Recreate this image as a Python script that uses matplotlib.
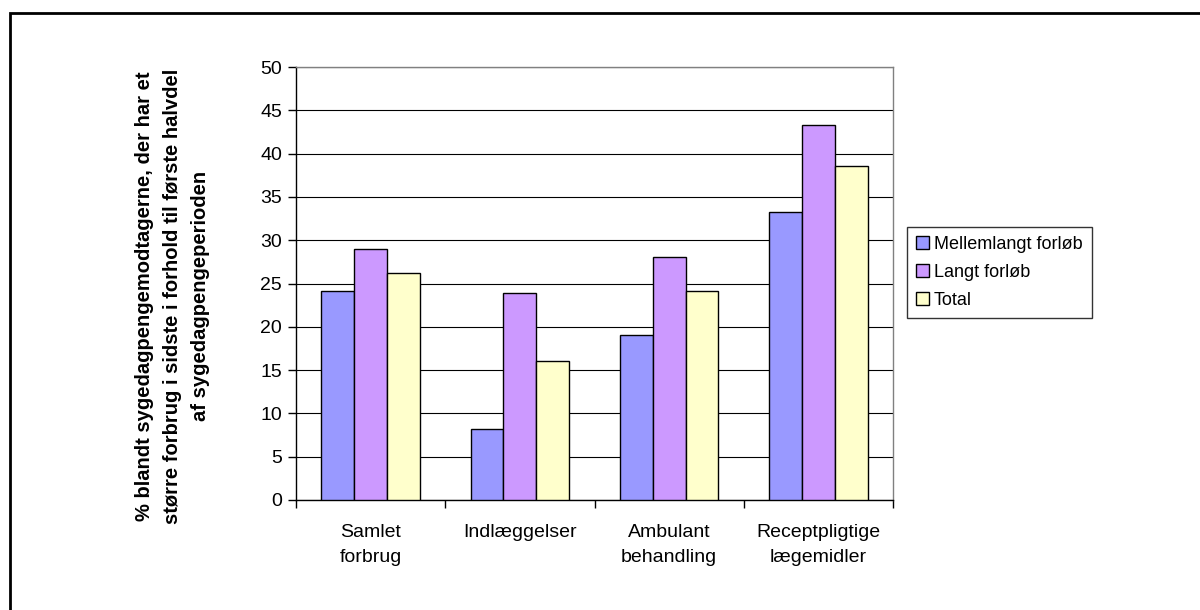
import numpy as np
import matplotlib
matplotlib.use("Agg")
import matplotlib.pyplot as plt
from matplotlib.patches import Rectangle

plt.rcParams['font.family'] = ['Liberation Sans', 'DejaVu Sans']

categories = ["Samlet\nforbrug", "Indlæggelser", "Ambulant\nbehandling", "Receptpligtige\nlægemidler"]
series_names = ["Mellemlangt forløb", "Langt forløb", "Total"]
mellemlangt = [24.1, 8.2, 19.0, 33.2]
langt = [29.0, 23.9, 28.1, 43.3]
total = [26.2, 16.0, 24.1, 38.6]
colors = ["#9999FF", "#CC99FF", "#FFFFCC"]
ylabel = ("% blandt sygedagpengemodtagerne, der har et\n"
          "større forbrug i sidste i forhold til første halvdel\n"
          "af sygedagpengeperioden")

fig = plt.figure(figsize=(12, 6.1), dpi=100)
ax = fig.add_axes([296 / 1200, 1 - 500 / 610, (893 - 296) / 1200, (500 - 67) / 610])

# outer frame (only top and left visible in the reference)
fig.patches.append(Rectangle((10 / 1200, -0.1), 1.2, 1 - 13 / 610 + 0.1,
                             transform=fig.transFigure, fill=False,
                             edgecolor="black", linewidth=2))

x = np.arange(len(categories))
w = 0.22
for i, (vals, name) in enumerate(zip([mellemlangt, langt, total], series_names)):
    ax.bar(x + (i - 1) * w, vals, w, color=colors[i], edgecolor="black",
           linewidth=1, label=name, zorder=3)

ax.set_xlim(-0.5, len(categories) - 0.5)
ax.set_ylim(0, 50)
ax.set_yticks(np.arange(0, 51, 5))
ax.yaxis.grid(True, color="black", linewidth=0.8, zorder=0)
ax.tick_params(axis="y", direction="out", length=6, width=1, labelsize=14, pad=4)

ax.set_xticks(x)
ax.set_xticklabels(categories, fontsize=14, linespacing=1.65)
ax.tick_params(axis="x", which="major", length=0, pad=17)
ax.set_xticks(np.arange(-0.5, len(categories), 1), minor=True)
ax.tick_params(axis="x", which="minor", direction="out", length=6, width=1)

for s in ["top", "right"]:
    ax.spines[s].set_color("#808080")
    ax.spines[s].set_linewidth(1)
for s in ["left", "bottom"]:
    ax.spines[s].set_color("black")
    ax.spines[s].set_linewidth(1)

fig.text(172 / 1200, 1 - 296 / 610, ylabel, rotation=90, ha="center", va="center",
         multialignment="center", fontsize=14.5, fontweight="bold", linespacing=1.6)

leg = fig.legend(loc="upper left", bbox_to_anchor=(907 / 1200, 1 - 227 / 610),
                 fontsize=13, frameon=True, fancybox=False, handlelength=0.7,
                 handleheight=0.7, handletextpad=0.3, labelspacing=0.6,
                 borderpad=0.5, borderaxespad=0)
leg.get_frame().set_edgecolor("black")
leg.get_frame().set_linewidth(1)

fig.savefig("out.png", dpi=100)
